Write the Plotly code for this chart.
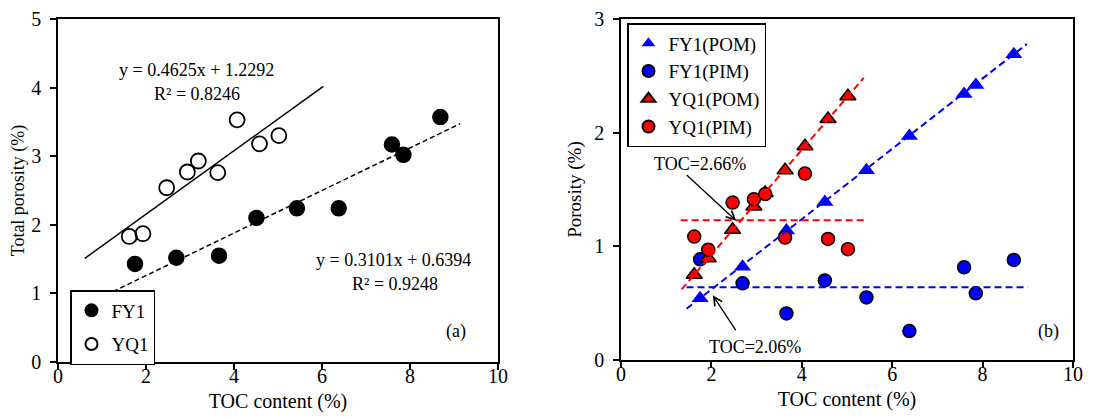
import plotly.graph_objects as go

# ---- data ----
toc_fy1 = [1.75, 2.69, 3.66, 4.51, 5.43, 6.38, 7.59, 7.85, 8.69]
toc_yq1 = [1.62, 1.93, 2.47, 2.94, 3.19, 3.63, 4.07, 4.58, 5.02]

total_fy1 = [1.43, 1.52, 1.55, 2.10, 2.24, 2.24, 3.17, 3.02, 3.57]
total_yq1 = [1.83, 1.87, 2.54, 2.77, 2.93, 2.76, 3.53, 3.18, 3.30]

pom_fy1 = [0.543, 0.82, 1.14, 1.39, 1.67, 1.97, 2.34, 2.42, 2.69]
pim_fy1 = [0.886, 0.675, 0.41, 0.70, 0.55, 0.255, 0.816, 0.587, 0.88]
pom_yq1 = [0.75, 0.895, 1.145, 1.35, 1.47, 1.67, 1.88, 2.12, 2.32]
pim_yq1 = [1.086, 0.97, 1.385, 1.415, 1.46, 1.077, 1.64, 1.065, 0.975]

# fitted lines: slope, intercept, x-range
fit_total_yq1 = [0.4625, 1.2292]
fit_total_yq1_x = [0.61, 6.03]
fit_total_fy1 = [0.3101, 0.6394]
fit_total_fy1_x = [1.25, 9.14]

fit_pom_fy1 = [0.3094, 0.0016]
fit_pom_fy1_x = [1.45, 8.98]
fit_pom_yq1 = [0.4618, 0.002]
fit_pom_yq1_x = [1.34, 5.37]

pim_level_fy1 = 0.64
pim_level_fy1_x = [1.45, 9.0]
pim_level_yq1 = 1.23
pim_level_yq1_x = [1.32, 5.38]

x_ticks = [0, 2, 4, 6, 8, 10]

FONT = "Liberation Serif"
BLUE = "#0000FF"
RED = "#FF0000"


def line(coef, xr):
    return xr, [coef[0] * v + coef[1] for v in xr]


fig = go.Figure()

# ---- left panel ----
fig.add_trace(go.Scatter(x=toc_fy1, y=total_fy1, mode="markers", name="FY1",
                         legendgroup="a1",
                         marker=dict(symbol="circle", size=15, color="black",
                                     line=dict(color="black", width=1.5)),
                         xaxis="x", yaxis="y", legend="legend"))
fig.add_trace(go.Scatter(x=toc_yq1, y=total_yq1, mode="markers", name="YQ1",
                         legendgroup="a2",
                         marker=dict(symbol="circle-open", size=15, color="black",
                                     line=dict(color="black", width=1.8)),
                         xaxis="x", yaxis="y", legend="legend"))
lx, ly = line(fit_total_yq1, fit_total_yq1_x)
fig.add_trace(go.Scatter(x=lx, y=ly, mode="lines", showlegend=False,
                         line=dict(color="black", width=1.5),
                         xaxis="x", yaxis="y"))
lx, ly = line(fit_total_fy1, fit_total_fy1_x)
fig.add_trace(go.Scatter(x=lx, y=ly, mode="lines", showlegend=False,
                         line=dict(color="black", width=1.5, dash="5px,3px"),
                         xaxis="x", yaxis="y"))

# ---- right panel ----
fig.add_trace(go.Scatter(x=toc_fy1, y=pom_fy1, mode="markers", name="FY1(POM)",
                         legendgroup="b1",
                         marker=dict(symbol="triangle-up", size=15, color=BLUE,
                                     line=dict(color=BLUE, width=0)),
                         xaxis="x2", yaxis="y2", legend="legend2"))
fig.add_trace(go.Scatter(x=toc_fy1, y=pim_fy1, mode="markers", name="FY1(PIM)",
                         legendgroup="b2",
                         marker=dict(symbol="circle", size=13, color=BLUE,
                                     line=dict(color="black", width=1.5)),
                         xaxis="x2", yaxis="y2", legend="legend2"))
fig.add_trace(go.Scatter(x=toc_yq1, y=pom_yq1, mode="markers", name="YQ1(POM)",
                         legendgroup="b3",
                         marker=dict(symbol="triangle-up", size=14, color=RED,
                                     line=dict(color="black", width=1.5)),
                         xaxis="x2", yaxis="y2", legend="legend2"))
fig.add_trace(go.Scatter(x=toc_yq1, y=pim_yq1, mode="markers", name="YQ1(PIM)",
                         legendgroup="b4",
                         marker=dict(symbol="circle", size=13, color=RED,
                                     line=dict(color="black", width=1.5)),
                         xaxis="x2", yaxis="y2", legend="legend2"))

dash2 = "7px,4px"
lx, ly = line(fit_pom_yq1, fit_pom_yq1_x)
fig.add_trace(go.Scatter(x=lx, y=ly, mode="lines", showlegend=False,
                         line=dict(color=RED, width=2, dash=dash2),
                         xaxis="x2", yaxis="y2"))
fig.add_trace(go.Scatter(x=pim_level_yq1_x, y=[pim_level_yq1] * 2, mode="lines",
                         showlegend=False, line=dict(color=RED, width=2, dash=dash2),
                         xaxis="x2", yaxis="y2"))
lx, ly = line(fit_pom_fy1, fit_pom_fy1_x)
fig.add_trace(go.Scatter(x=lx, y=ly, mode="lines", showlegend=False,
                         line=dict(color=BLUE, width=2, dash=dash2),
                         xaxis="x2", yaxis="y2"))
fig.add_trace(go.Scatter(x=pim_level_fy1_x, y=[pim_level_fy1] * 2, mode="lines",
                         showlegend=False, line=dict(color=BLUE, width=2, dash=dash2),
                         xaxis="x2", yaxis="y2"))

# page has an 8px body margin: figure pixel = page pixel - 8
OFF = 8
W, H = 1100, 410


def fx(p):
    return (p - OFF) / W


def fy(p):
    return 1 - (p - OFF) / H


TICKF = dict(family=FONT, size=20, color="black")
axis_common = dict(showline=True, linecolor="black", linewidth=1.5, mirror=True,
                   ticks="outside", ticklen=6, tickwidth=1.5, tickcolor="black",
                   showgrid=False, zeroline=False, tickfont=TICKF, automargin=False)

fig.update_layout(
    width=W, height=H, autosize=False,
    margin=dict(l=0, r=0, t=0, b=0, pad=0, autoexpand=False),
    plot_bgcolor="white", paper_bgcolor="white",
    font=dict(family=FONT, size=18, color="black"),
    xaxis=dict(domain=[fx(58), fx(498)], range=[0, 10], tickvals=x_ticks,
               ticklabelstandoff=-11,
               title=dict(text="TOC content (%)", font=dict(family=FONT, size=20), standoff=8),
               anchor="y", **axis_common),
    yaxis=dict(domain=[fy(362), fy(19)], range=[0, 5], dtick=1,
               ticklabelstandoff=5,
               title=dict(text="Total porosity (%)", font=dict(family=FONT, size=18), standoff=6),
               anchor="x", **axis_common),
    xaxis2=dict(domain=[fx(621), fx(1073)], range=[0, 10], tickvals=x_ticks,
                ticklabelstandoff=-11,
                title=dict(text="TOC content (%)", font=dict(family=FONT, size=20), standoff=8),
                anchor="y2", **axis_common),
    yaxis2=dict(domain=[fy(360), fy(19)], range=[0, 3], dtick=1,
                ticklabelstandoff=5,
                title=dict(text="Porosity (%)", font=dict(family=FONT, size=19), standoff=8),
                anchor="x2", **axis_common),
    legend=dict(x=fx(70), y=fy(290), xanchor="left", yanchor="top",
                bordercolor="black", borderwidth=1.5, bgcolor="white",
                font=dict(family=FONT, size=19, color="black"),
                itemsizing="constant", itemwidth=30, tracegroupgap=6),
    legend2=dict(x=fx(627), y=fy(23), xanchor="left", yanchor="top",
                 bordercolor="black", borderwidth=1.5, bgcolor="white",
                 font=dict(family=FONT, size=19, color="black"),
                 itemsizing="constant", itemwidth=30, tracegroupgap=0),
    showlegend=True,
)

ann_font = dict(family=FONT, size=18, color="black")
annotations = [
    dict(x=3.15, y=4.25, xref="x", yref="y", text="y = 0.4625x + 1.2292", showarrow=False, font=ann_font),
    dict(x=3.15, y=3.91, xref="x", yref="y", text="R² = 0.8246", showarrow=False, font=ann_font),
    dict(x=7.63, y=1.48, xref="x", yref="y", text="y = 0.3101x + 0.6394", showarrow=False, font=ann_font),
    dict(x=7.66, y=1.14, xref="x", yref="y", text="R² = 0.9248", showarrow=False, font=ann_font),
    dict(x=9.05, y=0.45, xref="x", yref="y", text="(a)", showarrow=False, font=ann_font),
    dict(x=9.46, y=0.25, xref="x2", yref="y2", text="(b)", showarrow=False, font=ann_font),
    dict(x=1.75, y=1.726, xref="x2", yref="y2", text="TOC=2.66%", showarrow=False, font=ann_font),
    dict(x=2.97, y=0.117, xref="x2", yref="y2", text="TOC=2.06%", showarrow=False, font=ann_font),
    dict(x=2.55, y=1.225, xref="x2", yref="y2", ax=1.42, ay=1.64, axref="x2", ayref="y2",
         text="", showarrow=True, arrowhead=5, arrowsize=1.3, arrowwidth=1.3, arrowcolor="black"),
    dict(x=2.03, y=0.57, xref="x2", yref="y2", ax=2.56, ay=0.25, axref="x2", ayref="y2",
         text="", showarrow=True, arrowhead=5, arrowsize=1.3, arrowwidth=1.3, arrowcolor="black"),
]
fig.update_layout(annotations=annotations)

fig.write_html("out.html")
